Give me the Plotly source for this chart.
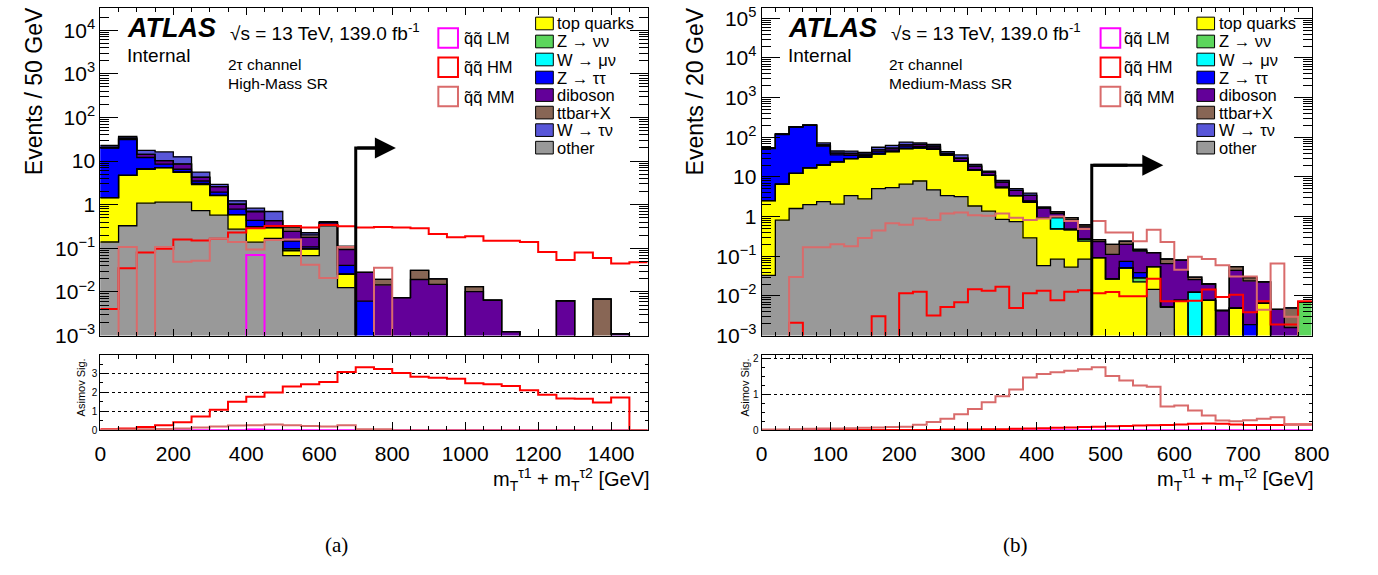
import numpy as np
import plotly.graph_objects as go

# ---------------- data: left panel (High-Mass SR, 50 GeV bins) ----------------
bin_width_L = 50
n_bins_L = 30
other_L = [0.14, 0.33, 1.09, 1.15, 1.15, 0.73, 0.58, 0.276, 0.139, 0.17, 0.068, 0.068, 0.33, 0.0126] + [0] * 16
top_L = [1.32, 4.4, 5.5, 5.95, 4.4, 2.17, 1.04, 0.32, 0.17, 0.13, 0.02, 0.03, 0.01, 0.013] + [0] * 16
znn_L = [0, 0, 0, 0, 0.05, 0.15, 0.02, 0, 0, 0, 0.01] + [0] * 19
wmn_L = [0, 0, 0, 0, 0, 0.05] + [0] * 24
ztt_L = [18.5, 26.3, 5.5, 1.45, 0.9, 0.4, 0.3, 0.2, 0.13, 0.02, 0.048, 0.01, 0, 0.015, 0.0062] + [0] * 15
dib_L = [0.5, 2.0, 2.2, 1.65, 2.0, 0.75, 0.65, 0.23, 0.25, 0.11, 0.1, 0.07, 0.05, 0.053, 0.022,
         0.0145, 0.0074, 0.0193, 0.015, 0, 0.0102, 0.0065, 0.00123, 0, 0, 0.0063, 0, 0, 0.0011, 0]
ttx_L = [0, 1.0, 0, 0, 0.1, 0.05, 0, 0, 0.02, 0, 0.065, 0.025, 0, 0.017, 0, 0.005, 0, 0.012, 0.005, 0,
         0.003, 0, 0, 0, 0, 0, 0, 0.0069, 0, 0]
wtn_L = [2.3, 3.0, 3.3, 6.0, 3.9, 1.3, 0.33, 0.2, 0.13, 0.27, 0, 0.025, 0.02] + [0] * 17
LM_L = [0] * 8 + [0.07] + [0] * 21
HM_L = [0.0041, 0.035, 0.080, 0.098, 0.159, 0.151, 0.165, 0.232, 0.29, 0.327, 0.327, 0.30, 0.345, 0.32,
        0.30, 0.31, 0.30, 0.29, 0.213, 0.18, 0.19, 0.15, 0.15, 0.14, 0.083, 0.054, 0.08, 0.06, 0.045, 0.048]
MM_L = [0, 0.107, 0, 0.107, 0.0495, 0.052, 0.165, 0.139, 0.094, 0.156, 0.16, 0.042, 0.021, 0.107, 0, 0.036] + [0] * 14
sigLM_L = [0] * 8 + [0.04] + [0] * 21
sigHM_L = [0.05, 0.09, 0.17, 0.26, 0.42, 0.73, 1.09, 1.51, 1.77, 2.0, 2.31, 2.43, 2.55, 3.08, 3.33, 3.24,
           3.03, 2.83, 2.77, 2.72, 2.48, 2.43, 2.34, 2.11, 1.87, 1.68, 1.66, 1.47, 1.73, 0]
sigMM_L = [0.03, 0.04, 0.05, 0.07, 0.1, 0.15, 0.2, 0.25, 0.27, 0.3, 0.26, 0.22, 0.2, 0.27, 0.06, 0.06] + [0] * 14

# ---------------- data: right panel (Medium-Mass SR, 20 GeV bins) ----------------
bin_width_R = 20
n_bins_R = 40
other_R = [0.033, 0.82, 1.6, 2.0, 2.4, 2.07, 3.4, 2.8, 5.1, 5.4, 6.6, 7.9, 4.75, 3.4, 3.2, 1.85, 1.37, 0.85,
           0.75, 0.29, 0.058, 0.085, 0.053, 0.085, 0, 0, 0, 0, 0.0146, 0.0053] + [0] * 10
top_R = [2.5, 5.8, 10.7, 15, 17.6, 22, 25.6, 28.8, 33, 38, 45, 46, 45, 32.6, 21.4, 13, 9.6, 4.55, 2.65, 2.0,
         0.89, 0.405, 0.42, 0.155, 0.093, 0.027, 0.051, 0.0226, 0.04, 0, 0.0077, 0, 0.0077, 0, 0.0049, 0,
         0.0066, 0, 0, 0]
znn_R = [0] * 19 + [0.15, 0, 0, 0, 0.03, 0, 0, 0, 0.006] + [0] * 11 + [0.007]
wmn_R = [0] * 21 + [0.45] + [0] * 9 + [0.0124] + [0] * 8
ztt_R = [49.5, 111, 168, 182, 40, 12, 6, 3, 5, 4, 6, 5, 4, 0, 0, 0.5, 0, 0.2, 0, 0, 0, 0, 0, 0, 0, 0,
         0.023, 0.01, 0, 0, 0, 0, 0, 0, 0, 0.0019, 0, 0, 0, 0]
dib_R = [1.5, 3, 4, 4, 4, 4, 4, 3, 5, 6, 7, 7, 6, 3, 5, 3.5, 2.2, 1.8, 1.2, 1.0, 0.7, 0.25, 0.35, 0.28, 0.14,
         0.085, 0.126, 0.098, 0.069, 0.06, 0.072, 0.0134, 0.0123, 0.0043, 0.039, 0.022, 0.016, 0.0046, 0.0016, 0]
ttx_R = [0] * 21 + [0.13, 0.12, 0.07, 0.03, 0.088, 0.04, 0, 0, 0.02, 0, 0.004, 0, 0, 0.011, 0.005, 0, 0, 0.0034, 0]
wtn_R = [1.5, 2, 2, 2, 8, 5, 6, 4, 8, 9, 11, 6, 6, 4.6, 6.4, 2, 0.8, 0.8, 0.5, 0.45, 0.1, 0, 0, 0, 0, 0, 0,
         0.014] + [0] * 12
LM_R = [0] * 40
HM_R = [0, 0, 0.0021, 0, 0, 0, 0, 0, 0.0031, 0, 0.0117, 0.0128, 0.0032, 0.0053, 0.0069, 0.0147, 0.0135, 0.017,
        0.005, 0.0117, 0.0135, 0.0078, 0.0128, 0.014, 0.0117, 0.0125, 0.0098, 0.0098, 0.027, 0.0074, 0.0074,
        0.0076, 0.0146, 0.0094, 0.0107, 0.0039, 0.0073, 0.0019, 0.0019, 0.0073]
MM_R = [0, 0, 0.030, 0.17, 0.17, 0.2, 0.18, 0.29, 0.45, 0.68, 0.62, 0.9, 0.82, 1.2, 1.27, 1.09, 1.05, 1.2, 0.94,
        0.82, 0.9, 1.0, 0.78, 0.49, 0.78, 0.40, 0.40, 0.24, 0.47, 0.23, 0.046, 0.097, 0.085, 0.059, 0.031,
        0.031, 0.0045, 0.066, 0.003, 0]
sigLM_R = [0] * 40
sigHM_R = [0, 0, 0, 0, 0, 0.01, 0.01, 0.01, 0.01, 0.01, 0.01, 0.01, 0.01, 0.02, 0.02, 0.02, 0.03, 0.03, 0.04,
           0.05, 0.06, 0.07, 0.08, 0.09, 0.1, 0.11, 0.12, 0.13, 0.14, 0.15, 0.16, 0.18, 0.19, 0.18, 0.16, 0.15,
           0.15, 0.15, 0.16, 0.16]
sigMM_R = [0.02, 0.02, 0.03, 0.04, 0.05, 0.05, 0.06, 0.07, 0.08, 0.09, 0.10, 0.155, 0.23, 0.32, 0.45, 0.59,
           0.78, 0.95, 1.14, 1.47, 1.57, 1.62, 1.66, 1.70, 1.76, 1.51, 1.39, 1.25, 1.21, 0.66, 0.69, 0.55, 0.41,
           0.27, 0.25, 0.28, 0.32, 0.36, 0.16, 0.16]

bkg_names = ["top quarks", "Z \u2192 \u03bd\u03bd", "W \u2192 \u03bc\u03bd", "Z \u2192 \u03c4\u03c4",
             "diboson", "ttbar+X", "W \u2192 \u03c4\u03bd", "other"]
sig_names = ["q\u0303q\u0303 LM", "q\u0303q\u0303 HM", "q\u0303q\u0303 MM"]

# ---------------- styling ----------------
W, H = 1378, 575
FONT = "Liberation Sans, Arial, sans-serif"
COL = {"other": "#999999", "top": "#ffff00", "znn": "#5cd65c", "wmn": "#00ffff", "ztt": "#0000ff",
       "dib": "#630099", "ttx": "#886655", "wtn": "#5856d8"}
SIGCOL = ["#ff00ff", "#ff0000", "#d96b6b"]
legend_colors = [COL["top"], COL["znn"], COL["wmn"], COL["ztt"], COL["dib"], COL["ttx"], COL["wtn"], COL["other"]]


def px(x):
    return x / W


def py(y):
    return 1 - y / H


fig = go.Figure()


def step_xy(vals, e, floor=None):
    y = list(vals) + [vals[-1]]
    if floor is not None:
        y = [v if v > 0 else floor for v in y]
    return list(e), y


def add_panel(xm, ym, xr, yr, comps, sigs, ratios, bw, n, cut, arrow_y, arrow_tip):
    e = np.arange(n + 1) * bw
    c = e[:-1] + bw / 2
    keys = ["other", "top", "znn", "wmn", "ztt", "dib", "ttx", "wtn"]
    cum = np.zeros(n)
    cums = []
    for k, vals in zip(keys, comps):
        fig.add_trace(go.Bar(x=c, y=vals, width=bw, marker=dict(color=COL[k], line=dict(color=COL[k], width=0.5)),
                             xaxis=xm, yaxis=ym, showlegend=False, hoverinfo="skip"))
        cum = cum + np.array(vals, dtype=float)
        cums.append(cum.copy())
    for cm in cums:
        xs, ys = step_xy(cm, e, floor=1e-6)
        fig.add_trace(go.Scatter(x=xs, y=ys, mode="lines", line=dict(color="black", width=1.3, shape="hv"),
                                 xaxis=xm, yaxis=ym, showlegend=False, hoverinfo="skip"))
    for vals, col in zip(sigs, SIGCOL):
        xs, ys = step_xy(vals, e, floor=1e-6)
        fig.add_trace(go.Scatter(x=xs, y=ys, mode="lines", line=dict(color=col, width=2, shape="hv"),
                                 xaxis=xm, yaxis=ym, showlegend=False, hoverinfo="skip"))
    for vals, col in zip(ratios, SIGCOL):
        xs, ys = step_xy(vals, e)
        fig.add_trace(go.Scatter(x=xs, y=ys, mode="lines", line=dict(color=col, width=2, shape="hv"),
                                 xaxis=xr, yaxis=yr, showlegend=False, hoverinfo="skip"))
    # cut arrow
    fig.add_trace(go.Scatter(x=[cut, cut, (cut + arrow_tip) / 2], y=[1e-6, arrow_y, arrow_y], mode="lines",
                             line=dict(color="black", width=3), xaxis=xm, yaxis=ym, showlegend=False,
                             hoverinfo="skip"))
    fig.add_annotation(x=arrow_tip, y=np.log10(arrow_y), ax=cut, ay=np.log10(arrow_y), xref=xm, yref=ym,
                       axref=xm, ayref=ym, text="", showarrow=True, arrowhead=2, arrowsize=1.4,
                       arrowwidth=3, arrowcolor="black", standoff=0)


add_panel("x", "y", "x2", "y2",
          [other_L, top_L, znn_L, wmn_L, ztt_L, dib_L, ttx_L, wtn_L],
          [LM_L, HM_L, MM_L], [sigLM_L, sigHM_L, sigMM_L], bin_width_L, n_bins_L, 700, 20, 810)
add_panel("x3", "y3", "x4", "y4",
          [other_R, top_R, znn_R, wmn_R, ztt_R, dib_R, ttx_R, wtn_R],
          [LM_R, HM_R, MM_R], [sigLM_R, sigHM_R, sigMM_R], bin_width_R, n_bins_R, 480, 19.6, 584)

# ---------------- axes ----------------
base_ax = dict(showline=True, linecolor="black", linewidth=1, mirror="allticks", ticks="inside",
               tickcolor="black", showgrid=False, zeroline=False, tickfont=dict(family=FONT, size=21, color="black"))


def log_ticks(lo, hi):
    vals = [10.0 ** d for d in range(lo, hi + 1)]
    txt = []
    for d in range(lo, hi + 1):
        if d == 0:
            txt.append("1")
        elif d == 1:
            txt.append("10")
        else:
            txt.append("10<sup>%s</sup>" % (str(d).replace("-", "\u2212")))
    minor = [k * 10.0 ** d for d in range(lo, hi + 1) for k in range(2, 10)]
    return vals, txt, minor


xl = [px(96), px(653)]
xr = [px(769), px(1329)]
ymain = [py(340.5), py(4.5)]
yrat = [py(437.7), py(360.7)]

tvL, ttL, mnL = log_ticks(-3, 4)
tvR, ttR, mnR = log_ticks(-3, 5)

fig.update_layout(
    xaxis=dict(base_ax, domain=xl, anchor="y", range=[0, 1500], dtick=200, tick0=0, ticklen=7,
               showticklabels=False, minor=dict(dtick=50, ticklen=4, ticks="inside", tickcolor="black")),
    yaxis=dict(base_ax, domain=ymain, anchor="x", type="log", range=[-3, 4.5], tickmode="array",
               tickvals=tvL, ticktext=ttL, ticklen=18,
               minor=dict(tickmode="array", tickvals=mnL, ticklen=9, ticks="inside", tickcolor="black")),
    xaxis2=dict(base_ax, domain=xl, anchor="y2", range=[0, 1500], dtick=200, tick0=0, ticklen=8,
                ticklabelstandoff=5,
                minor=dict(dtick=50, ticklen=4, ticks="inside", tickcolor="black")),
    yaxis2=dict(base_ax, domain=yrat, anchor="x2", range=[0, 3.96], tickmode="array", tickvals=[0, 1, 2, 3],
                ticklen=6, tickfont=dict(family=FONT, size=10, color="black"), showgrid=True, gridcolor="black",
                griddash="dot", gridwidth=1,
                minor=dict(dtick=0.5, ticklen=3, ticks="inside", tickcolor="black", showgrid=False)),
    xaxis3=dict(base_ax, domain=xr, anchor="y3", range=[0, 800], dtick=100, tick0=0, ticklen=7,
                showticklabels=False, minor=dict(dtick=20, ticklen=4, ticks="inside", tickcolor="black")),
    yaxis3=dict(base_ax, domain=ymain, anchor="x3", type="log", range=[-3, 5.25], tickmode="array",
                tickvals=tvR, ticktext=ttR, ticklen=18,
                minor=dict(tickmode="array", tickvals=mnR, ticklen=9, ticks="inside", tickcolor="black")),
    xaxis4=dict(base_ax, domain=xr, anchor="y4", range=[0, 800], dtick=100, tick0=0, ticklen=8,
                ticklabelstandoff=5,
                minor=dict(dtick=20, ticklen=4, ticks="inside", tickcolor="black")),
    yaxis4=dict(base_ax, domain=yrat, anchor="x4", range=[0, 2.09], tickmode="array", tickvals=[0, 1, 2],
                ticklen=6, tickfont=dict(family=FONT, size=10, color="black"), showgrid=True, gridcolor="black",
                griddash="dot", gridwidth=1,
                minor=dict(dtick=0.25, ticklen=3, ticks="inside", tickcolor="black", showgrid=False)),
    barmode="stack", bargap=0,
    width=W, height=H, margin=dict(l=0, r=0, t=0, b=0),
    paper_bgcolor="white", plot_bgcolor="white", showlegend=False,
    font=dict(family=FONT, color="black"),
)

# ---------------- texts ----------------


def text(x, y, s, size, xanchor="left", yanchor="middle", angle=0, family=FONT, bold=False, italic=False):
    if bold and italic:
        s = "<b><i>%s</i></b>" % s
    fig.add_annotation(x=px(x), y=py(y), xref="paper", yref="paper", text=s, showarrow=False,
                       xanchor=xanchor, yanchor=yanchor, textangle=angle, borderpad=0,
                       font=dict(family=family, size=size, color="black"))


for x0, lab_sr, ylab, xtitle_r, rat_x in [(0, "High-Mass SR", "Events / 50 GeV", 656, 76),
                                           (673, "Medium-Mass SR", "Events / 20 GeV", 1332, 752)]:
    text(x0 + 122, 25, "ATLAS", 27, bold=True, italic=True)
    text(x0 + 122, 53, "Internal", 19)
    text(x0 + 227, 29, "\u221as = 13 TeV, 139.0 fb<sup>-1</sup>", 19)
    text(x0 + 225, 62, "2\u03c4 channel", 15.5)
    text(x0 + 225, 82, lab_sr, 15.5)
    text(x0 + 28, 90, ylab, 23, xanchor="center", angle=-90)
    text(rat_x, 394, "Asimov Sig.", 11, xanchor="center", angle=-90)
    text(xtitle_r, 488, "m<sub>T</sub><sup>\u03c41</sup> + m<sub>T</sub><sup>\u03c42</sup> [GeV]", 20,
         xanchor="right")

# legends (drawn as boxes + labels)
legend_pos = [  # (sig box x, sig label x, bkg box x, bkg label x)
    (440, 465, 539, 560),
    (1114, 1137, 1212, 1233),
]
sig_rows = [35, 65, 95]
bkg_rows = [20, 38.5, 57, 75.5, 93.5, 111.5, 129.5, 147.5]
for sbx, slx, bbx, blx in legend_pos:
    for name, col, yy in zip(sig_names, SIGCOL, sig_rows):
        fig.add_shape(type="rect", xref="paper", yref="paper", x0=px(sbx), x1=px(sbx + 20),
                      y0=py(yy + 10), y1=py(yy - 10), line=dict(color=col, width=2), fillcolor="white")
        text(slx, yy, name, 16.5)
    for name, col, yy in zip(bkg_names, legend_colors, bkg_rows):
        fig.add_shape(type="rect", xref="paper", yref="paper", x0=px(bbx), x1=px(bbx + 18),
                      y0=py(yy + 6.5), y1=py(yy - 6.5), line=dict(color="black", width=1), fillcolor=col)
        text(blx, yy, name, 16.5)

text(336, 556, "(a)", 21, xanchor="center", family="Liberation Serif, DejaVu Serif, serif")
text(1027, 556, "(b)", 21, xanchor="center", family="Liberation Serif, DejaVu Serif, serif")

fig.write_html("out.html")
